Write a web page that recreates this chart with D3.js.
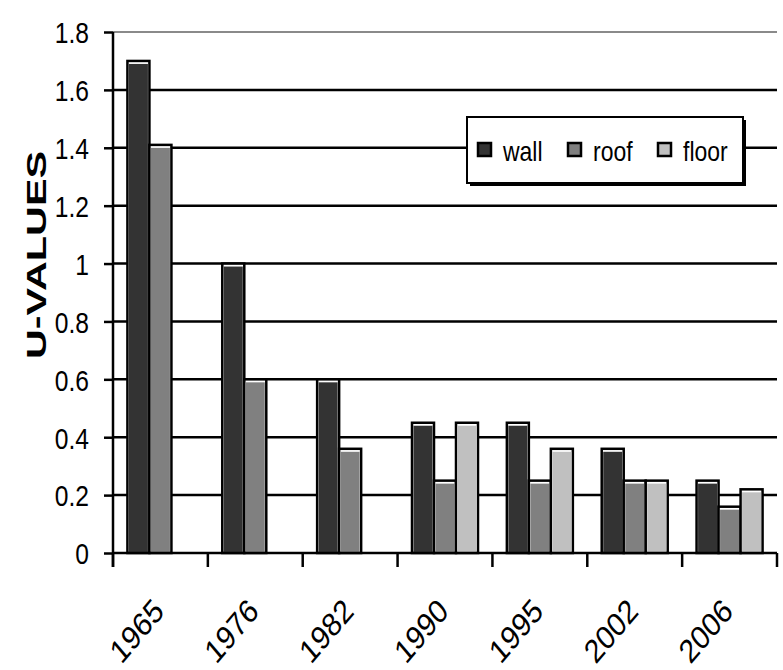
<!DOCTYPE html>
<html>
<head>
<meta charset="utf-8">
<script src="https://cdn.jsdelivr.net/npm/d3@7"></script>
<style>
  html, body { margin: 0; padding: 0; background: #fff; }
  svg { display: block; }
  text { font-family: "Liberation Sans", Arial, sans-serif; }
</style>
</head>
<body>
<svg id="chart" width="783" height="670"></svg>
<script>
// Building-element U-values by regulation year
const years = ["1965", "1976", "1982", "1990", "1995", "2002", "2006"];
const seriesNames = ["wall", "roof", "floor"];
const wallValues  = [1.7, 1.0, 0.6, 0.45, 0.45, 0.36, 0.25];
const roofValues  = [1.41, 0.6, 0.36, 0.25, 0.25, 0.25, 0.16];
const floorValues = [null, null, null, 0.45, 0.36, 0.25, 0.22];
const yTickValues = [0, 0.2, 0.4, 0.6, 0.8, 1.0, 1.2, 1.4, 1.6, 1.8];
const yTickLabels = ["0", "0.2", "0.4", "0.6", "0.8", "1", "1.2", "1.4", "1.6", "1.8"];
const yTitle = "U-VALUES";

const seriesValues = [wallValues, roofValues, floorValues];
const seriesColors = ["#333333", "#808080", "#c0c0c0"];

const svg = d3.select("#chart");
const plotLeft = 113, plotRight = 777, plotTop = 32, plotBottom = 553;

const y = d3.scaleLinear().domain([0, 1.8]).range([plotBottom, plotTop]);
const x = d3.scaleBand().domain(years).range([plotLeft, plotRight]).paddingInner(0).paddingOuter(0);
const groupWidth = 66;
const xs = d3.scaleBand().domain(seriesNames).range([0, groupWidth]);
const groupOffset = (x.bandwidth() - groupWidth) / 2;

// squeeze text horizontally to a condensed width
function condense(sel, factor) {
  sel.each(function () {
    const len = this.getComputedTextLength();
    this.setAttribute("textLength", len * factor);
    this.setAttribute("lengthAdjust", "spacingAndGlyphs");
  });
}

// horizontal gridlines
svg.append("g").selectAll("line")
  .data(yTickValues.filter(v => v > 0))
  .join("line")
  .attr("x1", plotLeft).attr("x2", plotRight)
  .attr("y1", d => y(d)).attr("y2", d => y(d))
  .attr("stroke", d => d === 1.8 ? "#8a8a8a" : "#000")
  .attr("stroke-width", d => d === 1.8 ? 2 : 2.5);

// bars
const rows = [];
years.forEach((yr, i) => {
  seriesNames.forEach((s, j) => {
    const v = seriesValues[j][i];
    if (v != null) rows.push({ year: yr, series: s, value: v, color: seriesColors[j] });
  });
});

const bars = svg.append("g").selectAll("g.bar").data(rows).join("g").attr("class", "bar");
bars.append("rect")
  .attr("x", d => x(d.year) + groupOffset + xs(d.series))
  .attr("y", d => y(d.value))
  .attr("width", xs.bandwidth())
  .attr("height", d => plotBottom - y(d.value))
  .attr("fill", "#fff")
  .attr("stroke", "#000")
  .attr("stroke-width", 2.5);
bars.append("rect")
  .attr("x", d => x(d.year) + groupOffset + xs(d.series) + 1.5)
  .attr("y", d => y(d.value) + 3)
  .attr("width", xs.bandwidth() - 3)
  .attr("height", d => Math.max(0, plotBottom - y(d.value) - 3))
  .attr("fill", d => d.color);

// x axis line and category boundary ticks
svg.append("line")
  .attr("x1", plotLeft).attr("x2", plotRight)
  .attr("y1", plotBottom).attr("y2", plotBottom)
  .attr("stroke", "#000").attr("stroke-width", 2.5);
const boundaries = years.map(yr => x(yr)).concat([plotRight]);
svg.append("g").selectAll("line").data(boundaries).join("line")
  .attr("x1", d => d).attr("x2", d => d)
  .attr("y1", plotBottom).attr("y2", plotBottom + 14)
  .attr("stroke", "#000").attr("stroke-width", 2.5);

// y axis
const yAxis = d3.axisLeft(y)
  .tickValues(yTickValues)
  .tickFormat((d, i) => yTickLabels[i])
  .tickSize(9)
  .tickPadding(15);
const gy = svg.append("g").attr("transform", `translate(${plotLeft},0)`).call(yAxis);
gy.select(".domain").remove();
gy.selectAll(".tick line").attr("stroke", "#000").attr("stroke-width", 2.5);
gy.selectAll(".tick text")
  .attr("font-family", "Liberation Sans, Arial, sans-serif")
  .attr("font-size", 30)
  .attr("fill", "#000")
  .attr("dy", "0.36em")
  .call(condense, 0.82);
svg.append("line")
  .attr("x1", plotLeft).attr("x2", plotLeft)
  .attr("y1", plotTop).attr("y2", plotBottom + 14)
  .attr("stroke", "#000").attr("stroke-width", 2.5);

// x labels, rotated and drawn slightly tall
svg.append("g").selectAll("text").data(years).join("text")
  .attr("font-size", 28)
  .attr("text-anchor", "end")
  .attr("transform", d => `translate(${x(d) + x.bandwidth() / 2 + 5},${plotBottom + 60}) scale(1,1.18) rotate(-45)`)
  .text(d => d);

// y title
svg.append("text")
  .attr("transform", `translate(46,255) rotate(-90)`)
  .attr("text-anchor", "middle")
  .attr("font-weight", "bold")
  .attr("font-size", 27)
  .attr("textLength", 208)
  .attr("lengthAdjust", "spacingAndGlyphs")
  .text(yTitle);

// legend
const lg = svg.append("g");
lg.append("rect")
  .attr("x", 470).attr("y", 120).attr("width", 276).attr("height", 66)
  .attr("fill", "#000");
lg.append("rect")
  .attr("x", 467).attr("y", 117).attr("width", 276).attr("height", 66)
  .attr("fill", "#fff").attr("stroke", "#000").attr("stroke-width", 2);
const items = lg.selectAll("g.item").data(seriesNames).join("g").attr("class", "item")
  .attr("transform", (d, i) => `translate(${478 + i * 90},0)`);
items.append("rect")
  .attr("x", 0).attr("y", 143).attr("width", 13).attr("height", 13)
  .attr("fill", (d, i) => seriesColors[i])
  .attr("stroke", "#000").attr("stroke-width", 2.5);
items.append("text")
  .attr("x", 25).attr("y", 161)
  .attr("font-size", 28)
  .text(d => d)
  .call(condense, 0.82);
</script>
</body>
</html>
